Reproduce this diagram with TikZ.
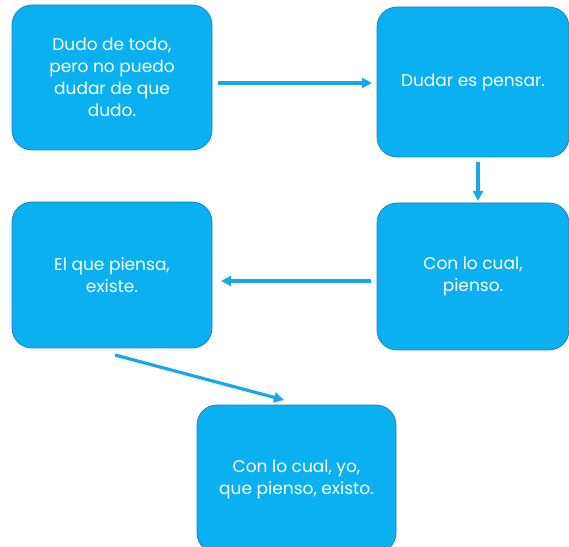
\documentclass[tikz,border=0pt]{standalone}
\usepackage{fontspec}
\setmainfont{Poppins}
\usetikzlibrary{arrows.meta}
\definecolor{boxfill}{RGB}{10,176,240}
\definecolor{boxline}{RGB}{30,130,200}
\definecolor{arrcol}{RGB}{22,168,232}
\tikzset{
  box/.style={draw=boxline, line width=0.8pt, fill=boxfill, rounded corners=20pt,
    text=white, align=center, font=\fontsize{17}{22}\selectfont, inner sep=0pt},
  arr/.style={draw=arrcol, line width=3.2pt, -{Triangle[length=10pt,width=10pt]}}
}
\begin{document}
\begin{tikzpicture}[x=1pt,y=1pt]
\useasboundingbox (0,0) rectangle (569,546);
\clip (0,0) rectangle (569,546);
% boxes (y measured from bottom)
\node[box, minimum width=200pt, minimum height=145pt] (b1) at (112,468.5) {Dudo de todo,\\pero no puedo\\dudar de que\\dudo.};
\node[box, minimum width=192pt, minimum height=150pt] (b2) at (473,464) {Dudar es pensar.};
\node[box, minimum width=192pt, minimum height=147pt] (b3) at (473,269.5) {Con lo cual,\\pienso.};
\node[box, minimum width=200pt, minimum height=146pt] (b4) at (112,271) {El que piensa,\\existe.};
\node[box, minimum width=199pt, minimum height=148pt] (b5) at (296.5,67) {Con lo cual, yo,\\que pienso, existo.};
% arrow end points
\coordinate (a1s) at (218,463);
\coordinate (a1e) at (372,463);
\coordinate (a2s) at (478,384);
\coordinate (a2e) at (478,345);
\coordinate (a3s) at (371,265);
\coordinate (a3e) at (221,265);
\coordinate (a4s) at (115,191);
\coordinate (a4e) at (284,146);
\draw[arr] (a1s) -- (a1e);
\draw[arr] (a2s) -- (a2e);
\draw[arr] (a3s) -- (a3e);
\draw[arr] (a4s) -- (a4e);
\end{tikzpicture}
\end{document}
